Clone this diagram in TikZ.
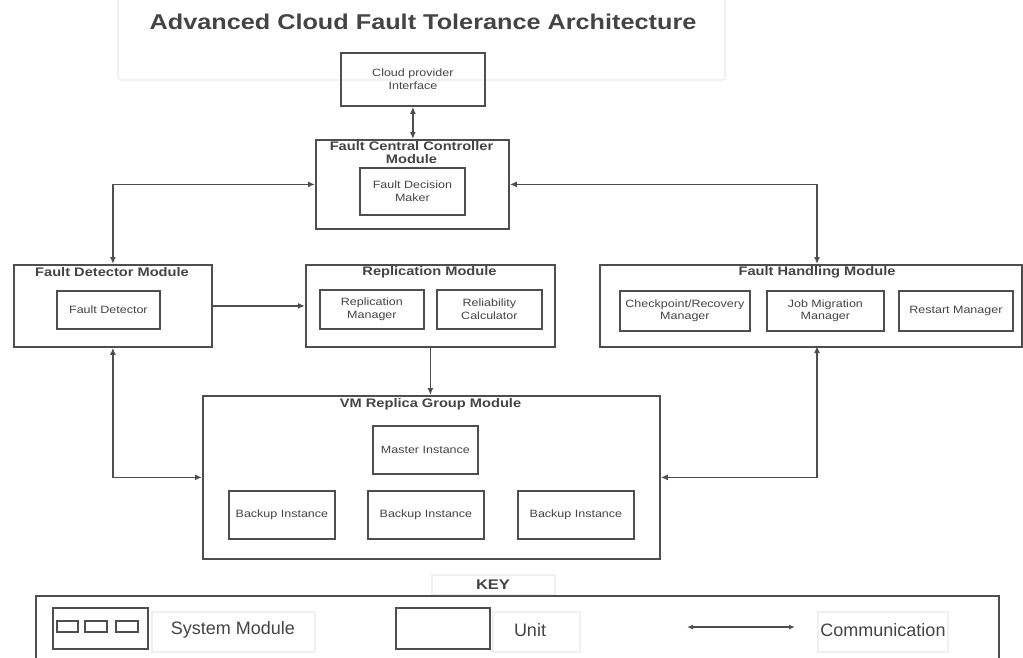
\documentclass[tikz,border=0pt]{standalone}
\usepackage{fontspec}
\setmainfont{Liberation Sans}
\newfontfamily\wide{Liberation Sans}[FakeStretch=1.18]
\usetikzlibrary{arrows.meta}
\definecolor{ln}{HTML}{4E4E4E}
\definecolor{tx}{HTML}{444444}
\definecolor{faint}{HTML}{F0F0F0}
\tikzset{
  sz/.style n args={2}{minimum width=#1pt, minimum height=#2pt},
  box/.style={draw=ln, line width=1.8pt, anchor=north west, inner sep=0pt, text=tx, align=center},
  unit/.style={box, font=\wide\fontsize{10.6}{12.5}\selectfont},
  modtitle/.style={font=\wide\bfseries\fontsize{12.4}{13}\selectfont, text=tx, align=center, inner sep=0pt},
  tip/.style={Latex[length=7pt,width=6pt]},
  link/.style={draw=ln, line width=1.8pt, {Latex[length=7pt,width=6pt]}-{Latex[length=7pt,width=6pt]}},
  onelink/.style={draw=ln, line width=1.8pt, -{Latex[length=7pt,width=6pt]}},
  faintbox/.style={draw=faint, line width=1.6pt},
  keytext/.style={font=\fontsize{18}{20}\selectfont, text=tx, inner sep=0pt}
}
\begin{document}
\begin{tikzpicture}[x=1pt,y=-1pt]
\useasboundingbox (0,0) rectangle (1023,657);
\begin{scope}
\clip (0,0) rectangle (1023,657);
% title
\draw[faintbox, rounded corners=3pt] (118,-5) rectangle (725,80);
\node[font=\wide\bfseries\fontsize{21.4}{24}\selectfont, text=tx, inner sep=0pt] (title) at (423,22) {Advanced Cloud Fault Tolerance Architecture};

% cloud provider
\node[unit, sz={144}{53}] (cloud) at (340,52) {Cloud provider\\Interface};

% central controller
\node[box, sz={193}{89}] (ctrl) at (315,139) {};
\node[modtitle] (ctrlt) at (411.5,153) {Fault Central Controller\\Module};
\node[unit, sz={105}{47}] (fdm) at (359,167) {Fault Decision\\Maker};

% fault detector module
\node[box, sz={198}{82}] (det) at (13,264) {};
\node[modtitle] (dett) at (112,272) {Fault Detector Module};
\node[unit, sz={103}{38}] (fd) at (56,290) {Fault Detector};

% replication module
\node[box, sz={249}{82}] (rep) at (305,264) {};
\node[modtitle] (rept) at (429.5,272) {Replication Module};
\node[unit, sz={104}{39}] (rm) at (319,289) {Replication\\Manager};
\node[unit, sz={105}{39}] (rc) at (436,289) {Reliability\\Calculator};

% fault handling module
\node[box, sz={422}{82}] (fh) at (599,264) {};
\node[modtitle] (fht) at (817,272) {Fault Handling Module};
\node[unit, sz={130}{40}] (cr) at (619,290) {Checkpoint/Recovery\\Manager};
\node[unit, sz={117}{40}] (jm) at (766,290) {Job Migration\\Manager};
\node[unit, sz={114}{40}] (rsm) at (898,290) {Restart Manager};

% VM replica group
\node[box, sz={457}{163}] (vm) at (202,395) {};
\node[modtitle] (vmt) at (430.5,404) {VM Replica Group Module};
\node[unit, sz={105}{48}] (master) at (372,425) {Master Instance};
\node[unit, sz={106}{48}] (b1) at (228,490) {Backup Instance};
\node[unit, sz={116}{48}] (b2) at (367,490) {Backup Instance};
\node[unit, sz={116}{48}] (b3) at (517,490) {Backup Instance};

% connectors
\draw[link] (cloud.south) -- (cloud.south |- ctrl.north);
\draw[link] (ctrl.west) -| (det.north);
\coordinate (fhtop) at (817,264);
\coordinate (fhbot) at (817,346);
\draw[link] (ctrl.east) -| (fhtop);
\draw[onelink] (det.east) -- (rep.west);
\draw[onelink] (rep.south) -- (rep.south |- vm.north);
\draw[link] (det.south) |- (vm.west);
\draw[link] (fhbot) |- (vm.east);

% key
\draw[faintbox] (432,575) rectangle (555,595);
\node[font=\wide\bfseries\fontsize{14}{16}\selectfont, text=tx, inner sep=0pt] (keyt) at (493,585) {KEY};
\node[box, sz={963}{90}] (keybox) at (35,595) {};
\node[box, sz={95}{41}] (sysicon) at (52,607) {};
\draw[draw=ln, line width=1.5pt] (57,621) rectangle (78,632);
\draw[draw=ln, line width=1.5pt] (85,621) rectangle (107,632);
\draw[draw=ln, line width=1.5pt] (116,621) rectangle (138,632);
\draw[faintbox] (152,612) rectangle (315,652);
\node[keytext] (syst) at (233,630) {System Module};
\node[box, sz={94}{41}] (uniticon) at (395,607) {};
\draw[faintbox] (493,612) rectangle (580,652);
\node[keytext] (unitt) at (530,630) {Unit};
\coordinate (ka) at (687,627);
\coordinate (kb) at (795,627);
\draw[draw=ln, line width=1.3pt, {Latex[length=6pt,width=5pt]}-{Latex[length=6pt,width=5pt]}] (ka) -- (kb);
\draw[faintbox] (818,612) rectangle (948,652);
\node[keytext] (commt) at (883,630) {Communication};
\end{scope}
\end{tikzpicture}
\end{document}
